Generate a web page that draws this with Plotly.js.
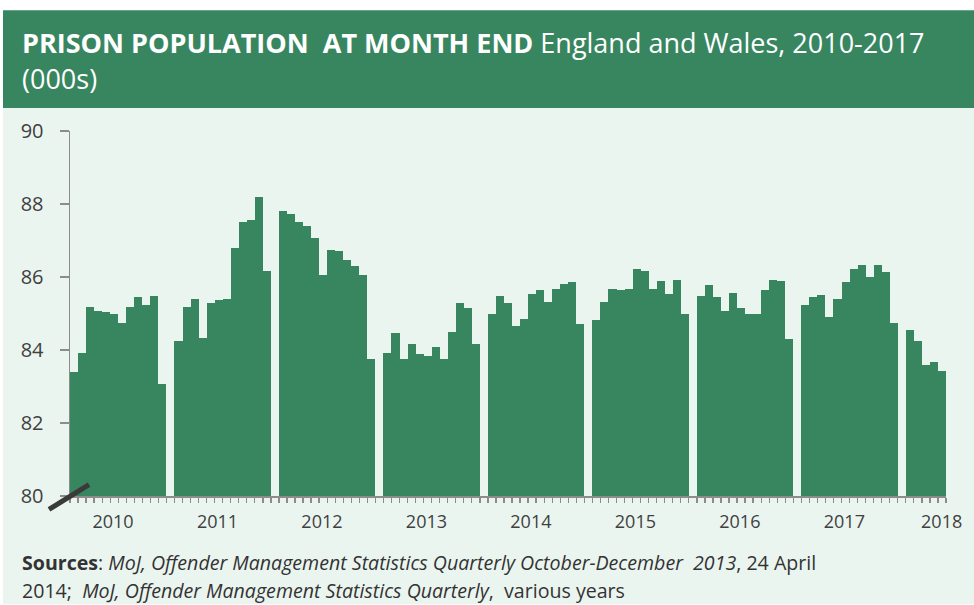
<!DOCTYPE html>
<html>
<head>
<meta charset="utf-8">
<script src="https://cdn.plot.ly/plotly-3.0.1.min.js"></script>
<style>
html,body{margin:0;padding:0;background:#fff;}
#chart{width:974px;height:605px;}
</style>
</head>
<body>
<div id="chart"></div>
<script>
// Prison population at month end, England and Wales (000s)
const years = ["2010","2011","2012","2013","2014","2015","2016","2017","2018"];
const pop2010 = [83.40, 83.93, 85.19, 85.07, 85.04, 84.99, 84.75, 85.19, 85.44, 85.24, 85.48, 83.07];
const pop2011 = [84.26, 85.19, 85.39, 84.34, 85.28, 85.36, 85.40, 86.79, 87.52, 87.56, 88.18, 86.17];
const pop2012 = [87.81, 87.72, 87.51, 87.40, 87.08, 86.06, 86.74, 86.70, 86.46, 86.30, 86.06, 83.76];
const pop2013 = [83.93, 84.46, 83.76, 84.17, 83.89, 83.84, 84.09, 83.76, 84.50, 85.28, 85.15, 84.17];
const pop2014 = [84.99, 85.48, 85.28, 84.66, 84.86, 85.53, 85.64, 85.32, 85.68, 85.81, 85.85, 84.71];
const pop2015 = [84.83, 85.32, 85.68, 85.65, 85.68, 86.21, 86.17, 85.68, 85.88, 85.53, 85.93, 84.99];
const pop2016 = [85.48, 85.77, 85.44, 85.07, 85.56, 85.15, 84.99, 84.99, 85.65, 85.93, 85.89, 84.30];
const pop2017 = [85.24, 85.44, 85.52, 84.91, 85.40, 85.85, 86.21, 86.33, 86.01, 86.33, 86.13, 84.75];
const pop2018 = [84.54, 84.25, 83.60, 83.68, 83.43];
const yTicks = [80, 82, 84, 86, 88, 90];

const series = [pop2010, pop2011, pop2012, pop2013, pop2014, pop2015, pop2016, pop2017, pop2018];

// layout geometry (pixels)
const W = 974, H = 605;
const ml = 70, mr = 28, mt = 131, mb = 108.5;
const plotW = W - ml - mr, plotH = H - mt - mb;
const slotsPerYear = 13;
const xr = [-0.5, 8 * slotsPerYear + 4.5];

// build bar positions (one slot per month, one empty slot between years)
const xs = [], ys = [];
series.forEach((arr, yi) => {
  arr.forEach((v, m) => { xs.push(yi * slotsPerYear + m); ys.push(v); });
});

// year label positions
const labelPos = years.map((y, i) => i < years.length - 1 ? i * slotsPerYear + 4.85 : i * slotsPerYear + 3.96);

const green = "#37865F";
const mint = "#EBF5F0";
const axisCol = "#8C8C8C";
const txtCol = "#404040";
const font = "Open Sans, Noto Sans, sans-serif";

const px2x = px => (px - ml) / plotW;
const py2y = py => (H - mb - py) / plotH;

const data = [{
  type: "bar",
  x: xs,
  y: ys,
  width: 1,
  marker: {color: green, line: {width: 0}},
  hoverinfo: "x+y",
  showlegend: false
}, {
  // invisible trace to activate secondary x-axis for labels
  type: "scatter", x: [xr[0]], y: [80], xaxis: "x2", yaxis: "y",
  mode: "markers", marker: {opacity: 0}, hoverinfo: "skip", showlegend: false
}];

const layout = {
  width: W, height: H,
  margin: {l: ml, r: mr, t: mt, b: mb, pad: 0},
  paper_bgcolor: "#ffffff",
  plot_bgcolor: "rgba(0,0,0,0)",
  bargap: 0,
  font: {family: font, color: txtCol},
  xaxis: {
    range: xr, showgrid: false, zeroline: false,
    showline: true, linecolor: axisCol, linewidth: 1.5,
    tickmode: "linear", tick0: -0.5, dtick: 1,
    ticks: "outside", ticklen: 5, tickwidth: 1.3, tickcolor: axisCol,
    showticklabels: false, fixedrange: true
  },
  xaxis2: {
    range: xr, overlaying: "x", anchor: "y", side: "bottom",
    showgrid: false, zeroline: false, showline: false,
    tickmode: "array", tickvals: labelPos, ticktext: years,
    ticks: "", ticklabelstandoff: 13,
    tickfont: {family: font, size: 18, color: txtCol}, fixedrange: true
  },
  yaxis: {
    range: [80, 90], showgrid: false, zeroline: false,
    showline: true, linecolor: axisCol, linewidth: 1.5,
    tickmode: "array", tickvals: yTicks, ticktext: yTicks.map(String),
    ticks: "outside", ticklen: 9, tickwidth: 1.3, tickcolor: axisCol,
    ticklabelstandoff: 12,
    tickfont: {family: font, size: 20, color: txtCol}, fixedrange: true
  },
  shapes: [
    {type: "rect", xref: "paper", yref: "paper", layer: "below",
     x0: px2x(3), x1: px2x(W), y0: py2y(H), y1: py2y(108),
     fillcolor: mint, line: {width: 0}},
    {type: "rect", xref: "paper", yref: "paper", layer: "below",
     x0: px2x(3), x1: px2x(W), y0: py2y(108), y1: py2y(10),
     fillcolor: green, line: {width: 0}},
    {type: "line", xref: "paper", yref: "paper", layer: "above",
     x0: px2x(49), y0: py2y(510), x1: px2x(89), y1: py2y(485),
     line: {color: "#3A3A3A", width: 5}}
  ],
  annotations: [
    {xref: "paper", yref: "paper", x: px2x(20), y: py2y(42), xanchor: "left", yanchor: "middle",
     showarrow: false, align: "left",
     text: "<b>PRISON POPULATION  AT MONTH END</b> England and Wales, 2010-2017",
     font: {family: font, size: 27, color: "#ffffff"}},
    {xref: "paper", yref: "paper", x: px2x(20), y: py2y(78), xanchor: "left", yanchor: "middle",
     showarrow: false, align: "left",
     text: "(000s)",
     font: {family: font, size: 27, color: "#ffffff"}},
    {xref: "paper", yref: "paper", x: px2x(20), y: py2y(563), xanchor: "left", yanchor: "middle",
     showarrow: false, align: "left",
     text: "<b>Sources</b>: <i>MoJ, Offender Management Statistics Quarterly October-December  2013</i>, 24 April",
     font: {family: font, size: 19.6, color: "#333333"}},
    {xref: "paper", yref: "paper", x: px2x(20), y: py2y(591), xanchor: "left", yanchor: "middle",
     showarrow: false, align: "left",
     text: "2014;  <i>MoJ, Offender Management Statistics Quarterly</i>,  various years",
     font: {family: font, size: 19.6, color: "#333333"}}
  ]
};

Plotly.newPlot("chart", data, layout, {displayModeBar: false, staticPlot: true});
</script>
</body>
</html>
